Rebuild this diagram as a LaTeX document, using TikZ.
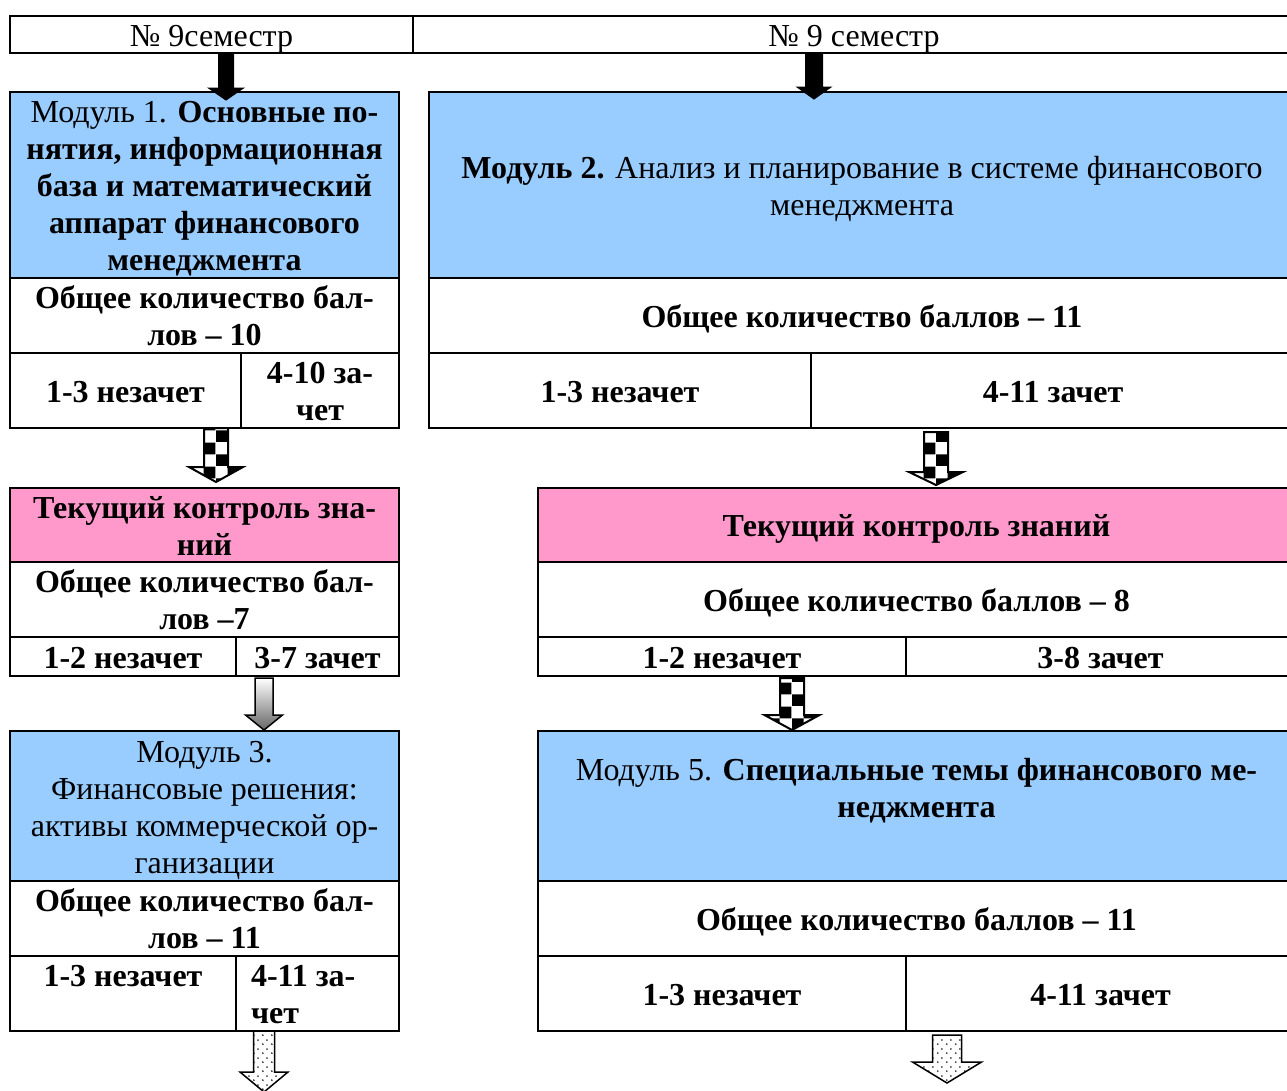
\documentclass[tikz,border=0pt]{standalone}
\usepackage{fontspec}
\setmainfont{Liberation Serif}
\usetikzlibrary{positioning,calc,patterns.meta}

\definecolor{modblue}{RGB}{153,204,255}
\definecolor{ctrlpink}{RGB}{255,153,204}

\tikzdeclarepattern{
  name=bigcheck, type=uncolored,
  bottom left={(0pt,0pt)}, top right={(24pt,24pt)}, tile size={(24pt,24pt)},
  code={\fill (0pt,0pt) rectangle (12pt,12pt); \fill (12pt,12pt) rectangle (24pt,24pt);}
}
\tikzdeclarepattern{
  name=smalldots, type=uncolored,
  bottom left={(0pt,0pt)}, top right={(9pt,9pt)}, tile size={(9pt,9pt)},
  code={\fill (2pt,2pt) circle (1.1pt); \fill (6.5pt,6.5pt) circle (1.1pt);}
}

\tikzset{
  box/.style={draw, line width=2.5pt, outer sep=0pt, inner xsep=4pt, inner ysep=0pt,
    align=flush center, anchor=north west, font=\fontsize{32}{37}\selectfont,
    execute at begin node={\rule{0pt}{30pt}}, execute at end node={\rule[-7pt]{0pt}{7pt}}},
  boxwidth/.style={minimum width=#1, text width=#1-8pt},
  modbox/.style={box, fill=modblue},
  cell/.style={box, fill=white},
  boldcell/.style={cell, font=\fontsize{32}{37}\selectfont\bfseries},
  ctrlbox/.style={boldcell, fill=ctrlpink},
  blockarrow/.style n args={3}{to path={let \p1=(\tikztostart), \p2=(\tikztotarget) in
    (\x1-#1pt,\y1) -- (\x1+#1pt,\y1) -- (\x1+#1pt,\y2+#3pt) -- (\x1+#2pt,\y2+#3pt)
    -- (\x1,\y2) -- (\x1-#2pt,\y2+#3pt) -- (\x1-#1pt,\y2+#3pt) -- cycle}},
  solidarrow/.style={draw=black, line width=1pt, fill=black},
  checkarrow/.style={draw=black, line width=2pt, pattern=bigcheck},
  grayarrow/.style={draw=black, line width=1.5pt, top color=white, bottom color=black!60},
  dotarrow/.style={draw=black, line width=1.5pt, pattern=smalldots, pattern color=black!75}
}

\begin{document}
\begin{tikzpicture}[x=1pt, y=-1pt]
  \useasboundingbox (0,0) rectangle (1287,1090);

  \node[cell, boxwidth=403pt, minimum height=37pt] (hdrL) at (10,16) {№ 9семестр};
  \node[cell, boxwidth=882pt, minimum height=37pt] (hdrR) at (hdrL.north east) {№ 9 семестр};

  \node[modbox, boxwidth=389pt, minimum height=186pt] (mod1) at (10,92)
    {Модуль 1. \textbf{Основные по-}\\\textbf{нятия, информационная}\\\textbf{база и математический}\\\textbf{аппарат финансового}\\\textbf{менеджмента}};
  \node[boldcell, boxwidth=389pt, minimum height=75pt, below=0pt of mod1] (sum1) {Общее количество бал-\\лов – 10};
  \node[boldcell, boxwidth=231pt, minimum height=75pt] (low1) at (sum1.south west) {1-3 незачет};
  \node[boldcell, boxwidth=158pt, minimum height=75pt] (up1) at (low1.north east) {4-10 за-\\чет};

  \node[modbox, boxwidth=866pt, minimum height=186pt] (mod2) at (429,92)
    {\textbf{Модуль 2.} Анализ и планирование в системе финансового\\менеджмента};
  \node[boldcell, boxwidth=866pt, minimum height=75pt, below=0pt of mod2] (sum2) {Общее количество баллов – 11};
  \node[boldcell, boxwidth=382pt, minimum height=75pt] (low2) at (sum2.south west) {1-3 незачет};
  \node[boldcell, boxwidth=484pt, minimum height=75pt] (up2) at (low2.north east) {4-11 зачет};

  \node[ctrlbox, boxwidth=389pt, minimum height=74pt] (tc1) at (10,488) {Текущий контроль зна-\\ний};
  \node[boldcell, boxwidth=389pt, minimum height=75pt, below=0pt of tc1] (sumtc1) {Общее количество бал-\\лов –7};
  \node[boldcell, boxwidth=226pt, minimum height=39pt] (lowtc1) at (sumtc1.south west) {1-2 незачет};
  \node[boldcell, boxwidth=163pt, minimum height=39pt] (uptc1) at (lowtc1.north east) {3-7 зачет};

  \node[ctrlbox, boxwidth=757pt, minimum height=74pt] (tc2) at (538,488) {Текущий контроль знаний};
  \node[boldcell, boxwidth=757pt, minimum height=75pt, below=0pt of tc2] (sumtc2) {Общее количество баллов – 8};
  \node[boldcell, boxwidth=368pt, minimum height=39pt] (lowtc2) at (sumtc2.south west) {1-2 незачет};
  \node[boldcell, boxwidth=389pt, minimum height=39pt] (uptc2) at (lowtc2.north east) {3-8 зачет};

  \node[modbox, boxwidth=389pt, minimum height=150pt] (mod3) at (10,731)
    {Модуль 3.\\Финансовые решения:\\активы коммерческой ор-\\ганизации};
  \node[boldcell, boxwidth=389pt, minimum height=75pt, below=0pt of mod3] (sum3) {Общее количество бал-\\лов – 11};
  \node[boldcell, boxwidth=226pt, minimum height=75pt] (low3) at (sum3.south west) {1-3 незачет\\~};
  \node[boldcell, align=flush left, minimum width=163pt, text width=133pt, inner xsep=15pt, minimum height=75pt] (up3) at (low3.north east) {4-11 за-\\чет};

  \node[modbox, boxwidth=757pt, minimum height=150pt] (mod5) at (538,731)
    {Модуль 5. \textbf{Специальные темы финансового ме-}\\\textbf{неджмента}\\~};
  \node[boldcell, boxwidth=757pt, minimum height=75pt, below=0pt of mod5] (sum5) {Общее количество баллов – 11};
  \node[boldcell, boxwidth=368pt, minimum height=75pt] (low5) at (sum5.south west) {1-3 незачет};
  \node[boldcell, boxwidth=389pt, minimum height=75pt] (up5) at (low5.north east) {4-11 зачет};

  \coordinate (endL) at (264,1092);
  \coordinate (endR) at (947,1083);

  \path[solidarrow, blockarrow={7.5}{17.5}{12}] ([xshift=14.5pt]hdrL.south) to ([yshift=-8pt]mod1.north);
  \path[solidarrow, blockarrow={8.5}{17}{12}] ([xshift=-40pt]hdrR.south) to ([yshift=-7pt]mod2.north);
  \path[checkarrow, blockarrow={12}{27}{15}] ([xshift=-25pt]low1.south east) to ([yshift=6pt]tc1.north);
  \path[checkarrow, blockarrow={12}{27}{13}] ([xshift=125pt, yshift=-4pt]up2.south west) to ([yshift=3pt]tc2.north);
  \path[checkarrow, blockarrow={12}{27.5}{15}] ([xshift=-114pt, yshift=-2pt]lowtc2.south east) to ([yshift=1pt]mod5.north);
  \path[grayarrow, blockarrow={9}{18.5}{15}] ([xshift=28pt, yshift=-2pt]uptc1.south west) to ([yshift=1pt]mod3.north);
  \path[dotarrow, blockarrow={10.5}{24}{20}] ([xshift=28pt]up3.south west) to (endL);
  \path[dotarrow, blockarrow={14.5}{34.5}{21}] ([xshift=41pt, yshift=-4pt]up5.south west) to (endR);
\end{tikzpicture}
\end{document}
